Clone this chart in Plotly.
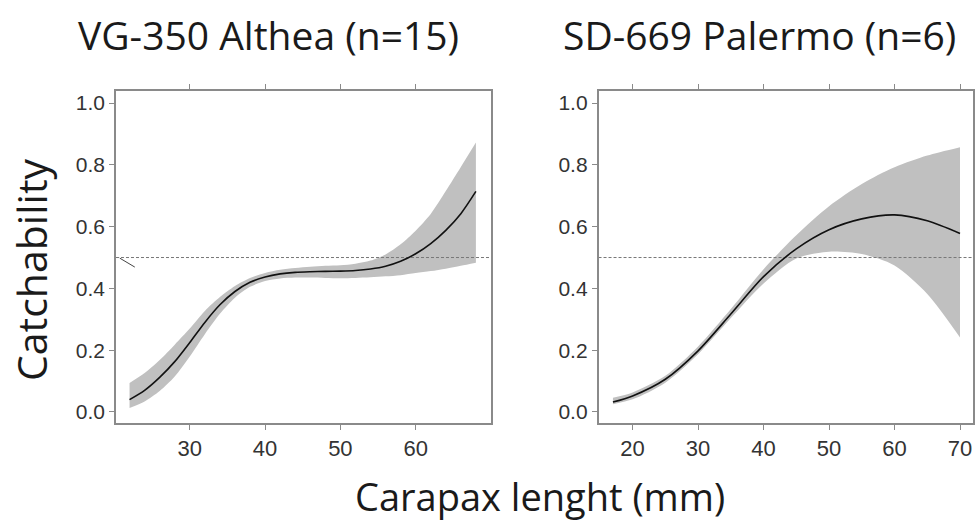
import plotly.graph_objects as go

# ---- Data ----
althea_x = [22, 24, 26, 28, 30, 32, 34, 36, 38, 40, 42, 44, 46, 48, 50, 52, 54, 56, 58, 60, 62, 64, 66, 68]
althea_mean = [0.040, 0.070, 0.112, 0.163, 0.225, 0.290, 0.347, 0.390, 0.420, 0.437, 0.447, 0.452, 0.454, 0.455,
               0.456, 0.458, 0.463, 0.472, 0.488, 0.512, 0.545, 0.588, 0.642, 0.714]
althea_upper = [0.094, 0.126, 0.168, 0.218, 0.270, 0.327, 0.372, 0.408, 0.434, 0.450, 0.460, 0.466, 0.470, 0.473,
                0.475, 0.480, 0.490, 0.510, 0.543, 0.587, 0.641, 0.715, 0.793, 0.872]
althea_lower = [0.013, 0.034, 0.068, 0.115, 0.180, 0.252, 0.318, 0.370, 0.405, 0.424, 0.432, 0.435, 0.435, 0.434,
                0.433, 0.434, 0.436, 0.439, 0.443, 0.450, 0.456, 0.464, 0.473, 0.483]
althea_stub_x = [20.7, 22.7]
althea_stub_y = [0.498, 0.469]

palermo_x = [17, 20, 25, 30, 35, 40, 45, 50, 55, 60, 65, 70]
palermo_mean = [0.032, 0.052, 0.106, 0.198, 0.317, 0.438, 0.528, 0.590, 0.625, 0.638, 0.619, 0.578]
palermo_upper = [0.046, 0.063, 0.117, 0.212, 0.333, 0.462, 0.572, 0.666, 0.738, 0.792, 0.830, 0.857]
palermo_lower = [0.025, 0.041, 0.095, 0.187, 0.304, 0.416, 0.497, 0.519, 0.511, 0.474, 0.382, 0.241]

threshold = 0.5
left_ticks = [30, 40, 50, 60]
right_ticks = [20, 30, 40, 50, 60, 70]
y_ticks = [0.0, 0.2, 0.4, 0.6, 0.8, 1.0]
titles = ["VG-350 Althea (n=15)", "SD-669 Palermo (n=6)"]
x_title = "Carapax lenght (mm)"
y_title = "Catchability"

BAND = "#c0c0c0"
AXIS = "#8a8a8a"
TICK_FAMILY = "Liberation Sans, Arial, sans-serif"
TITLEFONT = "Open Sans, Noto Sans, sans-serif"

fig = go.Figure()

def add_panel(xs, mean, up, lo, xa, ya, xrange):
    fig.add_trace(go.Scatter(x=xs, y=up, mode="lines", line=dict(width=0, shape="spline", smoothing=0.8),
                             xaxis=xa, yaxis=ya, showlegend=False, hoverinfo="skip"))
    fig.add_trace(go.Scatter(x=xs, y=lo, mode="lines", line=dict(width=0, shape="spline", smoothing=0.8),
                             fill="tonexty", fillcolor=BAND,
                             xaxis=xa, yaxis=ya, showlegend=False, hoverinfo="skip"))
    fig.add_trace(go.Scatter(x=xrange, y=[threshold, threshold], mode="lines",
                             line=dict(color="#777777", width=1, dash="3px,2px"),
                             xaxis=xa, yaxis=ya, showlegend=False))
    fig.add_trace(go.Scatter(x=xs, y=mean, mode="lines",
                             line=dict(color="#111111", width=1.6, shape="spline", smoothing=0.8),
                             xaxis=xa, yaxis=ya, showlegend=False))

L_RANGE = [20.2, 70.0]
R_RANGE = [14.8, 72.0]
add_panel(althea_x, althea_mean, althea_upper, althea_lower, "x", "y", L_RANGE)
fig.add_trace(go.Scatter(x=althea_stub_x, y=althea_stub_y, mode="lines",
                         line=dict(color="#444444", width=1), xaxis="x", yaxis="y", showlegend=False))
add_panel(palermo_x, palermo_mean, palermo_upper, palermo_lower, "x2", "y2", R_RANGE)

ydom = [0.191, 0.826]
common_x = dict(showgrid=False, zeroline=False, showline=True, linecolor=AXIS, linewidth=1.5,
                mirror="ticks", ticks="outside", ticklen=5, tickcolor=AXIS, tickwidth=1,
                tickfont=dict(family=TICK_FAMILY, size=22, color="#333333"))
common_y = dict(showgrid=False, zeroline=False, showline=True, linecolor=AXIS, linewidth=1.5,
                mirror=True, ticks="outside", ticklen=5, tickcolor=AXIS, tickwidth=1,
                tickfont=dict(family=TICK_FAMILY, size=21, color="#333333"),
                range=[-0.036, 1.039], tickvals=y_ticks,
                ticktext=[f"{v:.1f}" for v in y_ticks], domain=ydom)

fig.update_layout(
    width=978, height=523,
    margin=dict(l=0, r=0, t=0, b=0),
    paper_bgcolor="white", plot_bgcolor="white",
    xaxis=dict(common_x, domain=[0.1186, 0.502], range=L_RANGE, tickvals=left_ticks),
    yaxis=dict(common_y, anchor="x"),
    xaxis2=dict(common_x, domain=[0.612, 0.995], range=R_RANGE, tickvals=right_ticks, anchor="y2"),
    yaxis2=dict(common_y, anchor="x2"),
    annotations=[
        dict(text=titles[0], x=268 / 978, y=(523 - 35) / 523, xref="paper", yref="paper",
             showarrow=False, xanchor="center", yanchor="middle",
             font=dict(family=TITLEFONT, size=39, color="#1a1a1a")),
        dict(text=titles[1], x=759 / 978, y=(523 - 35) / 523, xref="paper", yref="paper",
             showarrow=False, xanchor="center", yanchor="middle",
             font=dict(family=TITLEFONT, size=39, color="#1a1a1a")),
        dict(text=x_title, x=540 / 978, y=(523 - 496) / 523, xref="paper", yref="paper",
             showarrow=False, xanchor="center", yanchor="middle",
             font=dict(family=TITLEFONT, size=38, color="#1a1a1a")),
        dict(text=y_title, x=31 / 978, y=(523 - 270) / 523, xref="paper", yref="paper",
             showarrow=False, xanchor="center", yanchor="middle", textangle=-90,
             font=dict(family=TITLEFONT, size=41, color="#1a1a1a")),
    ],
)

fig.write_html("out.html", config={"displayModeBar": False},
               post_script="document.body.style.margin='0px';document.body.style.overflow='hidden';")
